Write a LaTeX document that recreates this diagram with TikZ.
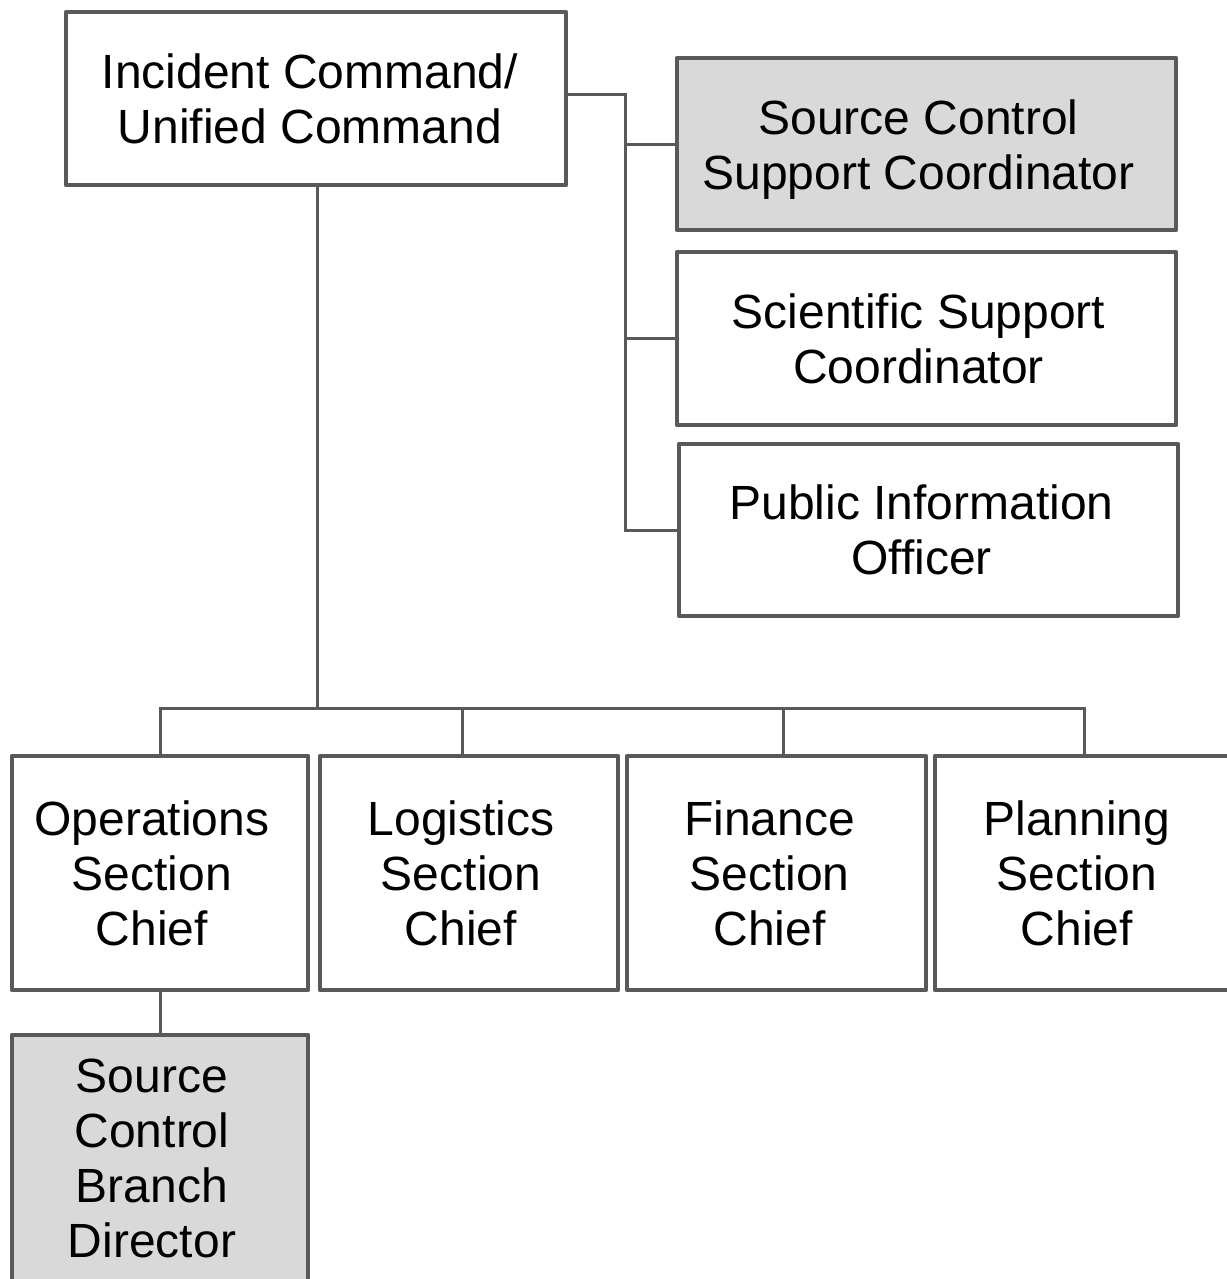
\documentclass[tikz,border=0pt]{standalone}
\usepackage{fontspec}
\setmainfont{Liberation Sans}
\definecolor{edge}{RGB}{89,89,89}
\definecolor{shade}{RGB}{217,217,217}
\begin{document}
\begin{tikzpicture}[x=1pt,y=-1pt,
  box/.style={draw=edge, line width=4.5pt, line join=round, fill=white, inner sep=0pt, anchor=center},
  greybox/.style={box, fill=shade},
  lbl/.style={align=center, inner sep=0pt, font=\fontsize{48}{55}\selectfont},
  conn/.style={draw=edge, line width=3pt}]
\useasboundingbox (0,0) rectangle (1226,1279);
% boxes
\node[box, minimum width=500pt, minimum height=173pt] (ic) at (316,98.5) {};
\node[greybox, minimum width=499pt, minimum height=172pt] (scsc) at (926.5,144) {};
\node[box, minimum width=499pt, minimum height=173pt] (ssc) at (926.5,338.5) {};
\node[box, minimum width=499pt, minimum height=172pt] (pio) at (928.5,530) {};
\node[box, minimum width=296pt, minimum height=234pt] (ops) at (160,873) {};
\node[box, minimum width=298pt, minimum height=234pt] (log) at (469,873) {};
\node[box, minimum width=299pt, minimum height=234pt] (fin) at (776.5,873) {};
\node[box, minimum width=298pt, minimum height=234pt] (plan) at (1084,873) {};
\node[greybox, minimum width=296pt, minimum height=246pt] (scbd) at (160,1158) {};
% labels
\node[lbl] (icT) at ([xshift=-6pt]ic.center) {Incident Command/\\Unified Command};
\node[lbl] (scscT) at ([xshift=-8pt,yshift=-6pt]scsc.center) {Source Control\\Support Coordinator};
\node[lbl] (sscT) at ([xshift=-8pt]ssc.center) {Scientific Support\\Coordinator};
\node[lbl] (pioT) at ([xshift=-7pt]pio.center) {Public Information\\Officer};
\node[lbl] (opsT) at ([xshift=-8pt]ops.center) {Operations\\Section\\Chief};
\node[lbl] (logT) at ([xshift=-8pt]log.center) {Logistics\\Section\\Chief};
\node[lbl] (finT) at ([xshift=-7pt]fin.center) {Finance\\Section\\Chief};
\node[lbl] (planT) at ([xshift=-7pt]plan.center) {Planning\\Section\\Chief};
\node[lbl] (scbdT) at ([xshift=-8pt]scbd.center) {Source\\Control\\Branch\\Director};
% connectors
\coordinate (jr) at (625,0);
\coordinate (bus) at (0,708);
\draw[conn] ([yshift=3.5pt]ic.east) -| (jr |- pio.west) -- (pio.west);
\draw[conn] (jr |- scsc.west) -- (scsc.west);
\draw[conn] (jr |- ssc.west) -- (ssc.west);
\draw[conn] ([xshift=1pt]ic.south) -- ([xshift=1pt]ic.south |- bus);
\draw[conn] (ops.north) -- (ops.north |- bus) -| (plan.north);
\draw[conn] ([xshift=-7pt]log.north) -- ([xshift=-7pt]log.north |- bus);
\draw[conn] ([xshift=6.5pt]fin.north) -- ([xshift=6.5pt]fin.north |- bus);
\draw[conn] (ops.south) -- (scbd.north);
\end{tikzpicture}
\end{document}
